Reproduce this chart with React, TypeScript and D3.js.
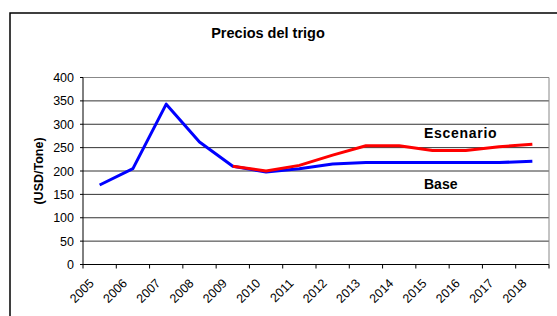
import React from "react";
import * as d3 from "d3";

const years = ["2005", "2006", "2007", "2008", "2009", "2010", "2011", "2012", "2013", "2014", "2015", "2016", "2017", "2018"];
const baseValues = [170, 205, 343, 262, 210, 198, 205, 215, 218, 218, 218, 218, 218, 221];
const escenarioValues: (number | null)[] = [null, null, null, null, 210, 200, 212, 234, 254, 254, 244, 244, 252, 257];
const yTicks = [0, 50, 100, 150, 200, 250, 300, 350, 400];

const W = 557;
const H = 316;
const plot = { left: 83, right: 549, top: 77.5, bottom: 264.5 };
const font = "'Liberation Sans', Arial, sans-serif";

export default function App() {
  const x = d3.scaleBand<string>().domain(years).range([plot.left, plot.right]);
  const y = d3.scaleLinear().domain([0, 400]).range([plot.bottom, plot.top]);
  const cx = (yr: string) => (x(yr) ?? 0) + x.bandwidth() / 2;

  const line = d3
    .line<number | null>()
    .defined((d) => d != null)
    .x((_, i) => cx(years[i]))
    .y((d) => y(d as number));

  return (
    <svg width={W} height={H} style={{ position: "absolute", left: 0, top: 0, background: "#fff" }}>
      <rect x={10} y={13} width={600} height={400} fill="#fff" stroke="#000" strokeWidth={1.5} />
      <text x={268} y={38} textAnchor="middle" fontFamily={font} fontSize={14.5} fontWeight="bold">
        Precios del trigo
      </text>

      {/* gridlines */}
      {yTicks.map((t) => (
        <line
          key={t}
          x1={plot.left}
          x2={plot.right}
          y1={y(t)}
          y2={y(t)}
          stroke={t === 400 ? "#888" : t === 0 ? "#000" : "#333"}
          strokeWidth={1}
        />
      ))}
      <line x1={plot.right} x2={plot.right} y1={plot.top} y2={plot.bottom} stroke="#888" />

      {/* y axis */}
      <line x1={plot.left} x2={plot.left} y1={plot.top} y2={plot.bottom} stroke="#000" />
      {yTicks.map((t) => (
        <g key={t}>
          <line x1={plot.left - 3} x2={plot.left} y1={y(t)} y2={y(t)} stroke="#000" />
          <text x={74} y={y(t) + 4.5} textAnchor="end" fontFamily={font} fontSize={12.5}>
            {t}
          </text>
        </g>
      ))}
      <text
        transform={`translate(43,${(plot.top + plot.bottom) / 2}) rotate(-90)`}
        textAnchor="middle"
        fontFamily={font}
        fontSize={12.5}
        fontWeight="bold"
      >
        (USD/Tone)
      </text>

      {/* x axis ticks */}
      {years.concat(["end"]).map((yr, i) => {
        const xx = plot.left + i * x.bandwidth();
        return <line key={yr} x1={xx} x2={xx} y1={plot.bottom} y2={plot.bottom + 4} stroke="#000" />;
      })}
      {years.map((yr) => (
        <text
          key={yr}
          transform={`translate(${cx(yr) - 5},284) rotate(-45)`}
          textAnchor="end"
          fontFamily={font}
          fontSize={12.5}
        >
          {yr}
        </text>
      ))}

      {/* series */}
      <path d={line(baseValues) ?? ""} fill="none" stroke="#0000ff" strokeWidth={3} strokeLinejoin="round" />
      <path d={line(escenarioValues) ?? ""} fill="none" stroke="#ff0000" strokeWidth={3} strokeLinejoin="round" />

      <text x={424} y={138} fontFamily={font} fontSize={14} fontWeight="bold" letterSpacing={0.7}>
        Escenario
      </text>
      <text x={424} y={189} fontFamily={font} fontSize={14} fontWeight="bold">
        Base
      </text>
    </svg>
  );
}
